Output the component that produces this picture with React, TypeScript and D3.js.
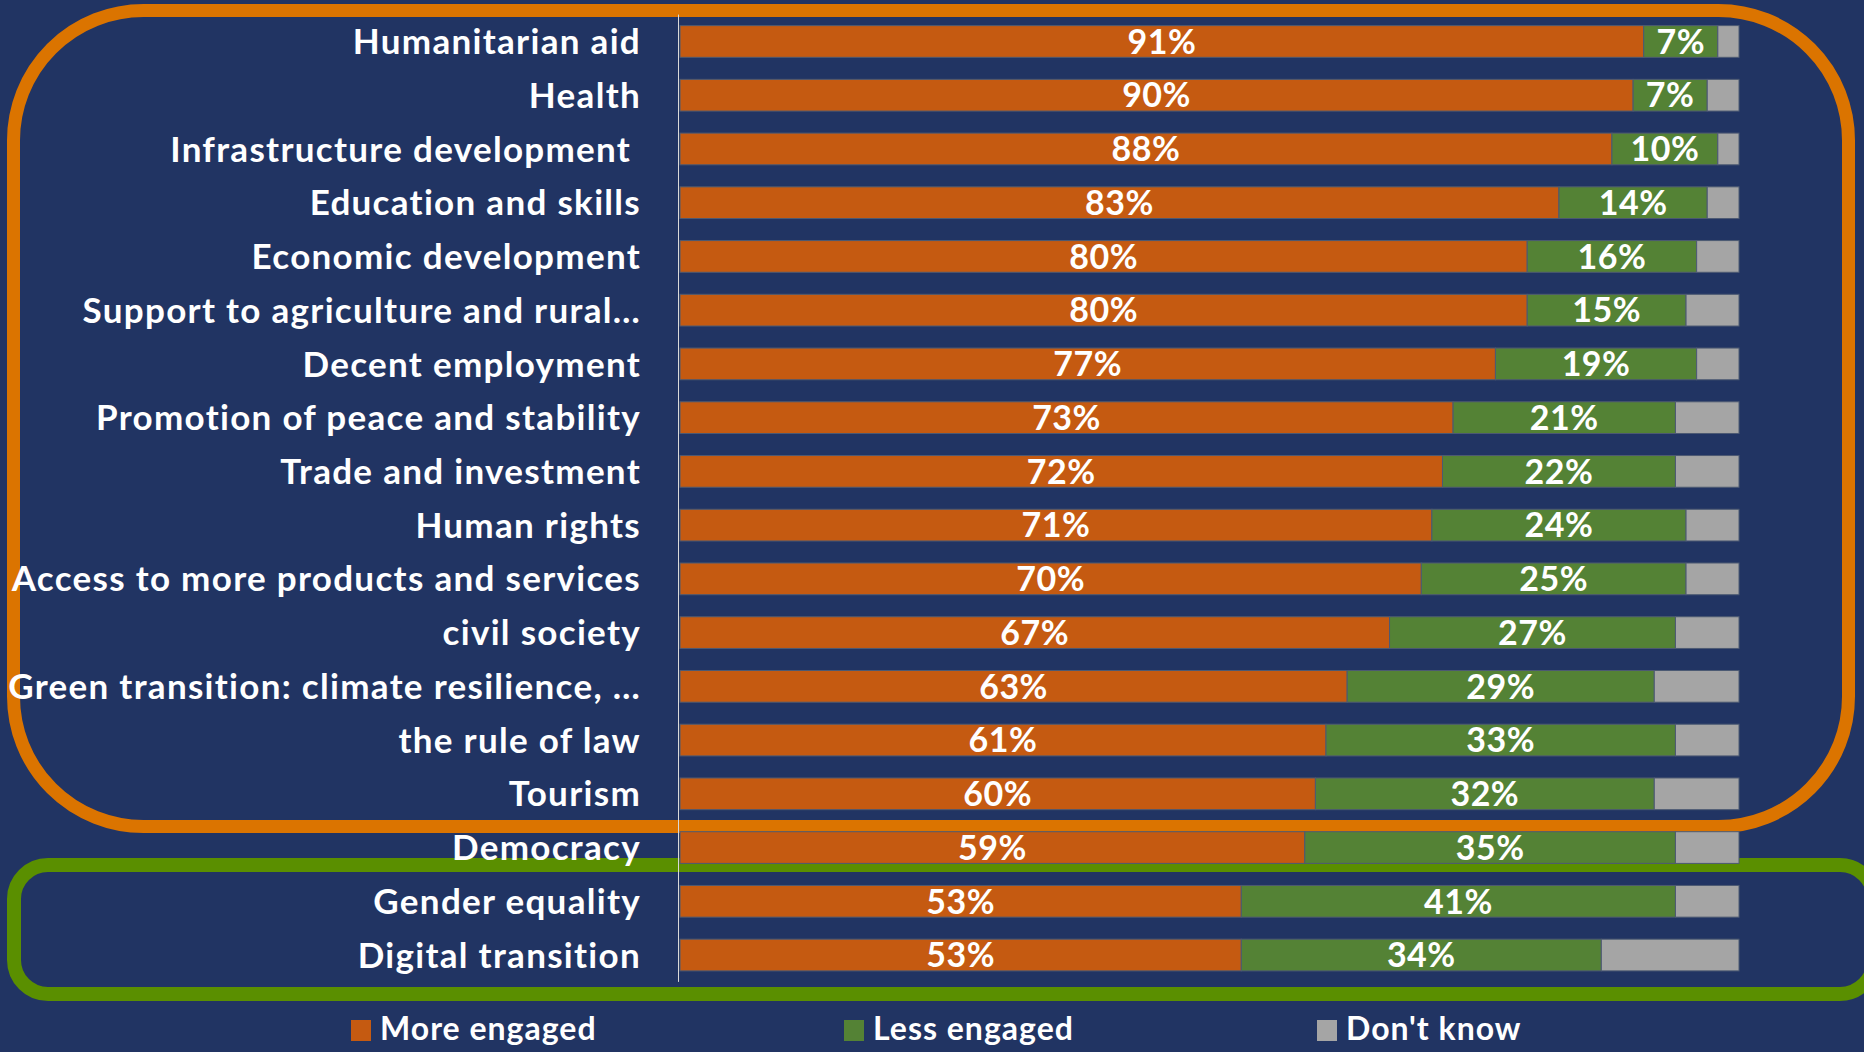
import React, { useEffect } from 'react';
import * as d3 from 'd3';

const categories = [
  'Humanitarian aid',
  'Health',
  'Infrastructure development ',
  'Education and skills',
  'Economic development',
  'Support to agriculture and rural…',
  'Decent employment',
  'Promotion of peace and stability',
  'Trade and investment',
  'Human rights',
  'Access to more products and services',
  'civil society',
  'Green transition: climate resilience, …',
  'the rule of law',
  'Tourism',
  'Democracy',
  'Gender equality',
  'Digital transition'
];
const moreEngaged = [91, 90, 88, 83, 80, 80, 77, 73, 72, 71, 70, 67, 63, 61, 60, 59, 53, 53];
const lessEngaged = [7, 7, 10, 14, 16, 15, 19, 21, 22, 24, 25, 27, 29, 33, 32, 35, 41, 34];
const dontKnow = [2, 3, 2, 3, 4, 5, 4, 6, 6, 5, 5, 6, 8, 6, 8, 6, 6, 13];
const seriesNames = ['More engaged', 'Less engaged', "Don't know"];
const seriesColors = ['#C55A11', '#548235', '#A5A5A5'];

const W = 1864;
const H = 1052;
const FONT = 'Lato, "Liberation Sans", sans-serif';

const App = () => {
  useEffect(() => {
    document.body.style.margin = '0';
    document.body.style.background = '#213463';
  }, []);

  const x = d3.scaleLinear().domain([0, 100]).range([680, 1739]);
  const y = d3.scaleBand().domain(categories).range([14.6, 981.9]).paddingInner(0.41).paddingOuter(0.205);

  const rows = categories.map((c, i) => ({ cat: c, more: moreEngaged[i], less: lessEngaged[i], dk: dontKnow[i] }));
  const stack = d3.stack().keys(['more', 'less', 'dk'])(rows as any);

  return (
    <svg width={W} height={H} style={{ display: 'block', fontFamily: FONT }}>
      <rect x={0} y={0} width={W} height={H} fill="#213463" />
      {/* highlight frames behind the chart */}
      <rect x={13.5} y={10.5} width={1835} height={816} rx={130} ry={130}
        fill="none" stroke="#DB7400" strokeWidth={13} />
      <rect x={14} y={865} width={1860} height={129} rx={34} ry={34}
        fill="none" stroke="#5A8F00" strokeWidth={14} />

      {/* bars */}
      {stack.map((layer, k) => (
        <g key={k} fill={seriesColors[k]}>
          {layer.map((d: any, i) => (
            <rect key={i}
              x={x(d[0])}
              y={y(categories[i])}
              width={x(d[1]) - x(d[0])}
              height={y.bandwidth()}
              stroke="#4d5a73" strokeWidth={1} />
          ))}
        </g>
      ))}

      {/* value labels */}
      {stack.slice(0, 2).map((layer, k) => (
        <g key={'l' + k} fill="#fff" fontWeight={700} fontSize={34} letterSpacing={0.5} textAnchor="middle">
          {layer.map((d: any, i) => (
            <text key={i}
              x={(x(d[0]) + x(d[1])) / 2}
              y={(y(categories[i]) as number) + y.bandwidth() / 2}
              dy="0.36em">
              {(d[1] - d[0]) + '%'}
            </text>
          ))}
        </g>
      ))}

      {/* category axis */}
      <line x1={678.5} x2={678.5} y1={y.range()[0]} y2={y.range()[1]} stroke="#d9d9d9" strokeWidth={1} />
      <g fill="#fff" fontWeight={700} fontSize={35} letterSpacing={1.3} textAnchor="end">
        {categories.map((c) => (
          <text key={c} x={641} y={(y(c) as number) + y.bandwidth() / 2} dy="0.36em"
            style={{ whiteSpace: 'pre' }}>{c}</text>
        ))}
      </g>

      {/* legend */}
      <g fontWeight={700} fontSize={32} letterSpacing={1} fill="#fff">
        {seriesNames.map((s, k) => {
          const lx = [351, 844, 1317][k];
          return (
            <g key={s} transform={`translate(${lx},1020)`}>
              <rect x={0} y={0} width={20} height={21} fill={seriesColors[k]} />
              <text x={29} y={20}>{s}</text>
            </g>
          );
        })}
      </g>
    </svg>
  );
};

export default App;
